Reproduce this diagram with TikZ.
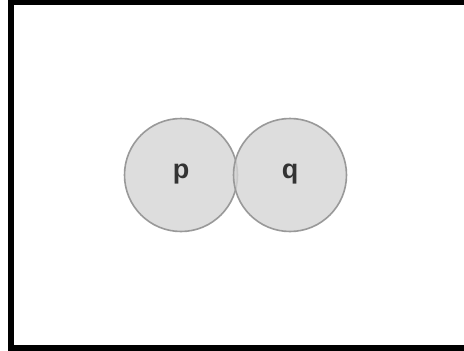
\documentclass[tikz,border=0pt]{standalone}
\usepackage{fontspec}
\setmainfont{Liberation Sans}
\begin{document}
\begin{tikzpicture}[x=1pt,y=-1pt,
  setnode/.style={circle,draw=black!40,fill=black!17,fill opacity=0.8,text opacity=1,line width=1.6pt,minimum size=113pt,inner sep=0pt,
    font=\fontsize{27}{30}\selectfont\bfseries,text=black!80}]
\useasboundingbox (0,0) rectangle (464,351);
\clip (0,0) rectangle (464,351);
\draw[line width=6pt] (11,2) rectangle (480,347.5);
\node[setnode] (p) at (181,175) {\raisebox{-7pt}{\smash{p}}};
\node[setnode] (q) at (290,175) {\raisebox{-7pt}{\smash{q}}};
\end{tikzpicture}
\end{document}
